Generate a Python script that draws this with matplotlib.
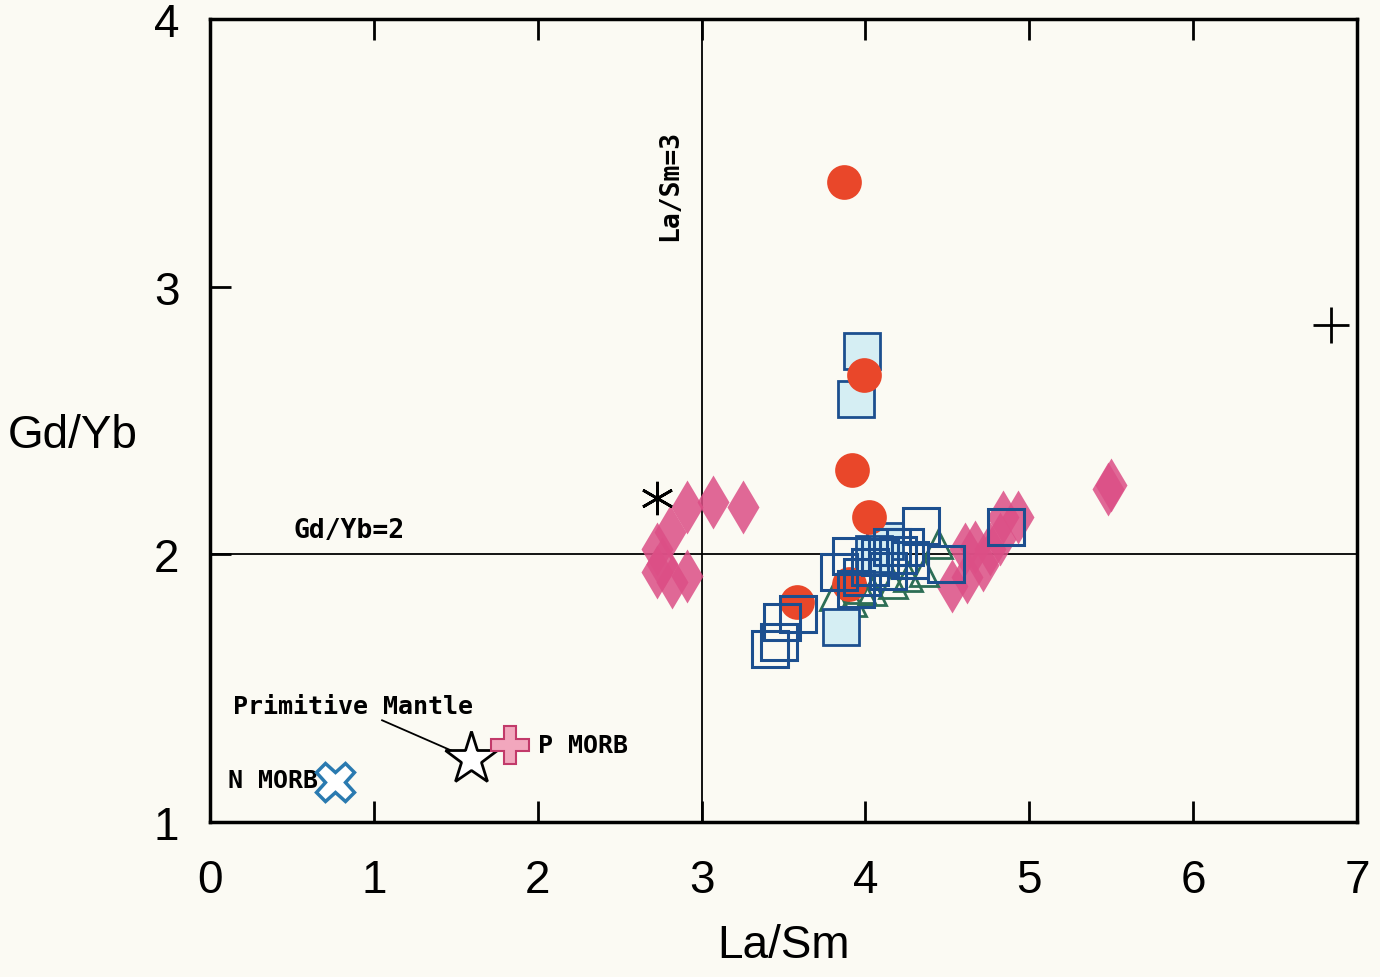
import matplotlib
matplotlib.use("Agg")
import matplotlib.pyplot as plt
import numpy as np

# --- data (La/Sm, Gd/Yb) ---
diamond_x = [3.07, 3.25, 2.91, 2.81, 2.73, 2.73, 2.82, 2.91, 2.76,
             5.48, 5.50, 4.84, 4.93, 4.61, 4.67, 4.53, 4.62, 4.72, 4.76, 4.82]
diamond_y = [2.195, 2.177, 2.177, 2.083, 2.02, 1.934, 1.897, 1.919, 1.964,
             2.244, 2.259, 2.139, 2.139, 2.02, 2.027, 1.882, 1.915, 1.96, 2.02, 2.057]

tri_x = [3.81, 3.92, 4.04, 4.17, 4.26, 4.44, 4.36, 3.97]
tri_y = [1.844, 1.822, 1.863, 1.889, 1.915, 2.039, 1.934, 1.87]

lsq_x = [3.98, 3.94, 3.85, 4.12, 4.05]
lsq_y = [2.76, 2.58, 1.73, 2.05, 2.0]

circ_x = [3.87, 3.99, 3.92, 4.02, 3.58, 3.90]
circ_y = [3.39, 2.67, 2.315, 2.14, 1.82, 1.89]

sq_x = [4.34, 4.86, 4.16, 3.91, 3.84, 4.49, 4.09, 4.20, 4.27, 4.03, 3.98, 4.14,
        4.24, 3.94, 3.59, 3.49, 3.47, 3.42]
sq_y = [2.106, 2.102, 2.027, 1.994, 1.934, 1.964, 1.99, 1.997, 1.98, 1.953, 1.915,
        1.938, 2.027, 1.87, 1.777, 1.747, 1.672, 1.646]

ast_xy = (2.73, 2.21)
plus_xy = (6.84, 2.857)
pm_xy = (1.59, 1.235)     # Primitive Mantle
pmorb_xy = (1.83, 1.288)  # P MORB
nmorb_xy = (0.76, 1.149)  # N MORB

xticks = [0, 1, 2, 3, 4, 5, 6, 7]
yticks = [1, 2, 3, 4]

bg = "#fbfaf3"
fig = plt.figure(figsize=(13.8, 9.78), dpi=100, facecolor=bg)
ax = fig.add_axes([0.1522, 0.1585, 0.8311, 0.8211], facecolor=bg)

ax.axvline(3, color="k", lw=1.3, zorder=1)
ax.axhline(2, color="k", lw=1.3, zorder=1)

ax.plot(diamond_x, diamond_y, "d", ms=27, color="#dc4f86", mec="none", alpha=0.85, zorder=2)
ax.plot(tri_x, tri_y, "^", ms=20, mfc="none", mec="#2d6e55", mew=2, zorder=3)
ax.plot(lsq_x, lsq_y, "s", ms=26, mfc="#d5eef3", mec="#1c4f8f", mew=2, zorder=4)
ax.plot(circ_x, circ_y, "o", ms=25, color="#e9472a", mec="none", zorder=5)
ax.plot(sq_x, sq_y, "s", ms=26, mfc="none", mec="#1c4f8f", mew=2.2, zorder=6)

ax.plot(*ast_xy, marker=(6, 2, 0), ms=24, color="k", mew=2, zorder=7)
ax.plot(*plus_xy, marker="+", ms=26, color="k", mew=2, zorder=7)
ax.plot(*pm_xy, marker="*", ms=40, mfc="white", mec="k", mew=2, zorder=7)
ax.plot(*pmorb_xy, marker="P", ms=28, mfc="#f2a7bd", mec="#c23a6a", mew=1.5, zorder=7)
ax.plot(*nmorb_xy, marker="X", ms=28, mfc="white", mec="#2a7ab0", mew=2.5, zorder=7)

mono = "DejaVu Sans Mono"
fs = 18
ax.text(2.81, 3.38, "La/Sm=3", rotation=90, fontsize=19, family=mono, weight="bold",
        ha="center", va="center")
ax.text(0.51, 2.09, "Gd/Yb=2", fontsize=19, family=mono, weight="bold", ha="left", va="center")
ax.text(0.14, 1.435, "Primitive Mantle", fontsize=fs, family=mono, weight="bold",
        ha="left", va="center")
ax.plot([1.05, 1.48], [1.38, 1.265], color="k", lw=1.3, zorder=6)
ax.text(2.0, 1.288, "P MORB", fontsize=fs, family=mono, weight="bold", ha="left", va="center")
ax.text(0.11, 1.155, "N MORB", fontsize=fs, family=mono, weight="bold", ha="left", va="center")

ax.set_xlim(0, 7)
ax.set_ylim(1, 4)
ax.set_xticks(xticks)
ax.set_yticks(yticks)
ax.tick_params(direction="in", length=15, width=2, top=True, right=False,
               labelsize=33, pad=22)
ax.tick_params(axis="x", pad=26)
for s in ax.spines.values():
    s.set_linewidth(2.5)

ax.set_xlabel("La/Sm", fontsize=33, labelpad=15, family="Liberation Sans")
ax.set_ylabel("Gd/Yb", fontsize=33, rotation=0, family="Liberation Sans")
ax.yaxis.set_label_coords(-0.12, 0.455)
for lab in ax.get_xticklabels() + ax.get_yticklabels():
    lab.set_family("Liberation Sans")

fig.savefig("out.png", dpi=100, facecolor=bg)
